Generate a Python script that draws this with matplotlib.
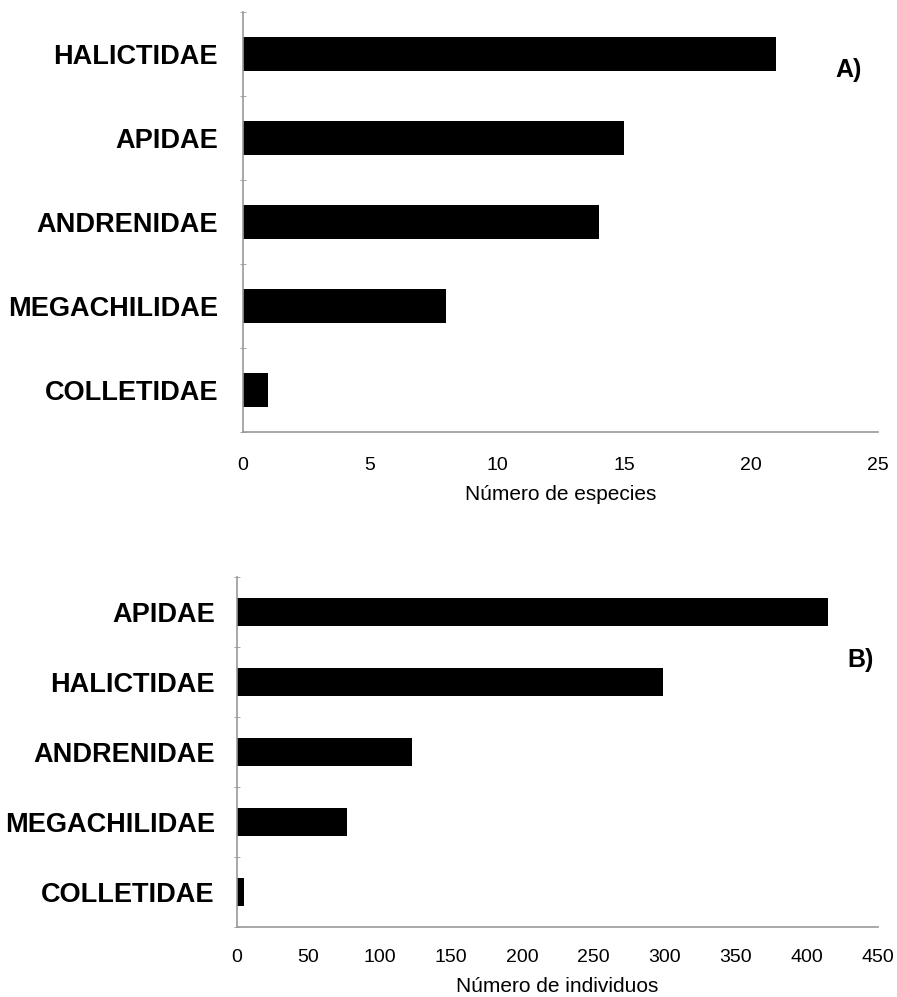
import matplotlib.pyplot as plt
from matplotlib.ticker import FixedLocator

plt.rcParams['font.family'] = ['Liberation Sans', 'DejaVu Sans']

# panel A: species per family
familias_a = ["HALICTIDAE", "APIDAE", "ANDRENIDAE", "MEGACHILIDAE", "COLLETIDAE"]
especies = [21, 15, 14, 8, 1]

# panel B: individuals per family
familias_b = ["APIDAE", "HALICTIDAE", "ANDRENIDAE", "MEGACHILIDAE", "COLLETIDAE"]
individuos = [415, 299, 123, 77, 5]

fig = plt.figure(figsize=(8.97, 9.97), dpi=100)
W, H = 897.0, 997.0

# axes positions in pixels: left, top, right, bottom
ax_a = fig.add_axes([243 / W, 1 - 432 / H, (878 - 243) / W, (432 - 12) / H])
ax_b = fig.add_axes([237 / W, 1 - 927 / H, (878 - 237) / W, (927 - 577) / H])


def draw_panel(ax, cats, vals, xmax, step, xlabel, tag, tag_xy, label_pad, tick_pad):
    y = list(range(len(cats)))
    ax.barh(y, vals, height=0.4, color="black")
    ax.set_ylim(len(cats) - 0.5, -0.5)
    ax.set_xlim(0, xmax)
    ax.set_yticks(y)
    ax.set_yticklabels(cats, fontsize=19.5, fontweight="bold")
    ax.tick_params(axis="y", length=0, pad=label_pad)
    ax.yaxis.set_minor_locator(FixedLocator([i - 0.5 for i in range(len(cats) + 1)]))
    ax.tick_params(axis="y", which="minor", length=4, color="#999999", direction="inout")
    ax.set_xticks(list(range(0, xmax + 1, step)))
    ax.tick_params(axis="x", length=0, labelsize=14, pad=tick_pad)
    ax.set_xlabel(xlabel, fontsize=15, labelpad=8)
    for side in ["top", "right"]:
        ax.spines[side].set_visible(False)
    for side in ["left", "bottom"]:
        ax.spines[side].set_color("#999999")
        ax.spines[side].set_linewidth(1.2)
    fig.text(tag_xy[0] / W, 1 - tag_xy[1] / H, tag, fontsize=18,
             fontweight="bold", ha="center", va="center")


draw_panel(ax_a, familias_a, especies, 25, 5, "Número de especies", "A)", (849, 70), 18, 18)
draw_panel(ax_b, familias_b, individuos, 450, 50, "Número de individuos", "B)", (861, 660), 16, 16)

fig.savefig("out.png", dpi=100)
